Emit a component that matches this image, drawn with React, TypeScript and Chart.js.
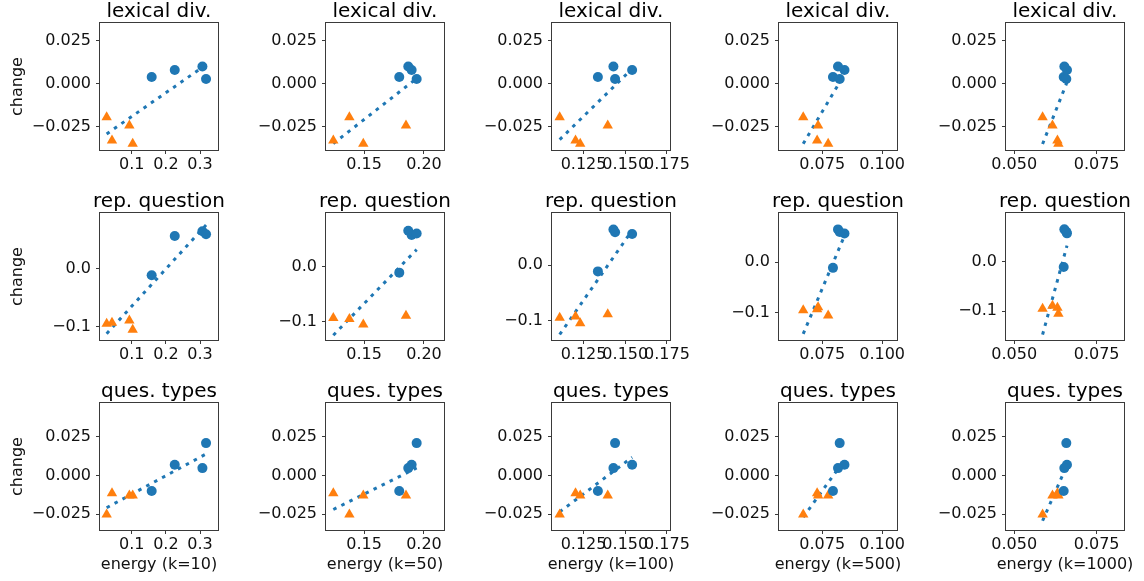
import React, { useEffect, useRef } from 'react';
import { Chart, registerables } from 'chart.js';

Chart.register(...registerables);
Chart.defaults.font.family = 'DejaVu Sans';

// ---------------- data ----------------
const rowTitles = ['lexical div.', 'rep. question', 'ques. types'];
const colXLabels = ['energy (k=10)', 'energy (k=50)', 'energy (k=100)', 'energy (k=500)', 'energy (k=1000)'];
const yAxisLabel = 'change';

// energy of the four "blue" systems and four "orange" systems, per k
const blueEnergyK10 = [0.1585, 0.226, 0.307, 0.3176];
const orangeEnergyK10 = [0.0268, 0.0424, 0.0932, 0.103];
const blueEnergyK50 = [0.1794, 0.1897, 0.1869, 0.1939];
const orangeEnergyK50 = [0.1378, 0.1244, 0.185, 0.1494];
const blueEnergyK100 = [0.1336, 0.1541, 0.1429, 0.1439];
const orangeEnergyK100 = [0.1107, 0.1202, 0.1395, 0.123];
const blueEnergyK500 = [0.0795, 0.0843, 0.0816, 0.0823];
const orangeEnergyK500 = [0.0671, 0.0729, 0.0733, 0.0775];
const blueEnergyK1000 = [0.065, 0.066, 0.0652, 0.0658];
const orangeEnergyK1000 = [0.0586, 0.0631, 0.0616, 0.0634];

// change per metric for the same systems
const blueChangeLexical = [0.0039, 0.008, 0.01, 0.0027];
const orangeChangeLexical = [-0.0195, -0.033, -0.0244, -0.035];
const blueChangeRepQuestion = [-0.011, 0.057, 0.065, 0.06];
const orangeChangeRepQuestion = [-0.095, -0.093, -0.089, -0.105];
const blueChangeQuesTypes = [-0.01, 0.007, 0.0048, 0.021];
const orangeChangeQuesTypes = [-0.0252, -0.0115, -0.013, -0.013];

const blueEnergy = [blueEnergyK10, blueEnergyK50, blueEnergyK100, blueEnergyK500, blueEnergyK1000];
const orangeEnergy = [orangeEnergyK10, orangeEnergyK50, orangeEnergyK100, orangeEnergyK500, orangeEnergyK1000];
const blueChange = [blueChangeLexical, blueChangeRepQuestion, blueChangeQuesTypes];
const orangeChange = [orangeChangeLexical, orangeChangeRepQuestion, orangeChangeQuesTypes];

// axis ranges and ticks
const xLimits = [[0.0073, 0.3526], [0.1183, 0.2167], [0.1061, 0.1768], [0.057, 0.1062], [0.0475, 0.0833]];
const xTickValues = [[0.1, 0.2, 0.3], [0.15, 0.2], [0.125, 0.15, 0.175], [0.075, 0.1], [0.05, 0.075]];
const xTickDecimals = [1, 2, 3, 3, 3];
const yLimitsLexical = [[-0.0386, 0.0353], [-0.0386, 0.0353], [-0.0386, 0.0353], [-0.0386, 0.0353], [-0.0386, 0.0353]];
const yLimitsRepQuestion = [[-0.1229, 0.0966], [-0.133, 0.097], [-0.1356, 0.095], [-0.1536, 0.0974], [-0.158, 0.098]];
const yLimitsQuesTypes = [[-0.0353, 0.047], [-0.0353, 0.047], [-0.0353, 0.047], [-0.0353, 0.047], [-0.0353, 0.047]];
const yLimits = [yLimitsLexical, yLimitsRepQuestion, yLimitsQuesTypes];
const yTickValues = [[-0.025, 0, 0.025], [-0.1, 0], [-0.025, 0, 0.025]];
const yTickDecimals = [3, 1, 3];

// ---------------- layout / style ----------------
const BLUE = '#1f77b4';
const ORANGE = '#ff7f0e';
const AXIS = '#3a3a3a';
const TEXT = '#111';
const FONT = 'DejaVu Sans';
const boxLefts = [100, 326, 552, 779, 1006];
const boxTops = [23, 213, 403];
const BOX_W = 118;
const BOX_H = 127;
const LEFT_W = 90;
const TOP_H = 23;
const BOTTOM_H = 45;
const RIGHT_W = 25;

function fmt(v: number, d: number) {
  const s = Math.abs(v).toFixed(d);
  return v < -1e-12 ? '\u2212' + s : s;
}

function fitLine(xs: number[], ys: number[]) {
  const n = xs.length;
  const mx = xs.reduce((a, b) => a + b, 0) / n;
  const my = ys.reduce((a, b) => a + b, 0) / n;
  let sxy = 0;
  let sxx = 0;
  for (let i = 0; i < n; i++) {
    sxy += (xs[i] - mx) * (ys[i] - my);
    sxx += (xs[i] - mx) * (xs[i] - mx);
  }
  const slope = sxy / sxx;
  const x0 = Math.min(...xs);
  const x1 = Math.max(...xs);
  return [
    { x: x0, y: my + slope * (x0 - mx) },
    { x: x1, y: my + slope * (x1 - mx) },
  ];
}

const framePlugin = {
  id: 'frame',
  afterDraw(chart: any, _args: any, opts: any) {
    const { ctx, chartArea } = chart;
    const cx = (chartArea.left + chartArea.right) / 2;
    ctx.save();
    ctx.strokeStyle = AXIS;
    ctx.lineWidth = 1;
    ctx.strokeRect(chartArea.left - 0.5, chartArea.top - 0.5, chartArea.right - chartArea.left + 1, chartArea.bottom - chartArea.top + 1);
    // panel title
    ctx.fillStyle = '#000';
    ctx.textAlign = 'center';
    ctx.textBaseline = 'alphabetic';
    ctx.font = `20px "${FONT}"`;
    ctx.fillText(opts.title, cx, chartArea.top - 6);
    // x axis label
    if (opts.xLabel) {
      ctx.fillStyle = TEXT;
      ctx.font = `16px "${FONT}"`;
      ctx.fillText(opts.xLabel, cx, chartArea.bottom + 39);
    }
    // y axis label
    if (opts.yLabel) {
      ctx.fillStyle = TEXT;
      ctx.font = `16px "${FONT}"`;
      ctx.translate(8, (chartArea.top + chartArea.bottom) / 2);
      ctx.rotate(-Math.PI / 2);
      ctx.textBaseline = 'middle';
      ctx.fillText(opts.yLabel, 0, 0);
    }
    ctx.restore();
  },
};

function Panel({ row, col }: { row: number; col: number }) {
  const ref = useRef<HTMLCanvasElement | null>(null);
  useEffect(() => {
    const bx = blueEnergy[col];
    const by = blueChange[row];
    const ox = orangeEnergy[col];
    const oy = orangeChange[row];
    const allX = [...bx, ...ox];
    const allY = [...by, ...oy];
    const chart = new Chart(ref.current as HTMLCanvasElement, {
      type: 'scatter',
      data: {
        datasets: [
          {
            data: bx.map((x, i) => ({ x, y: by[i] })),
            pointStyle: 'circle',
            pointRadius: 5,
            backgroundColor: BLUE,
            borderWidth: 0,
          },
          {
            data: ox.map((x, i) => ({ x, y: oy[i] })),
            pointStyle: 'triangle',
            pointRadius: 6,
            backgroundColor: ORANGE,
            borderWidth: 0,
          },
          {
            data: fitLine(allX, allY),
            showLine: true,
            borderColor: BLUE,
            borderWidth: 3,
            borderDash: [3.5, 5.5],
            pointRadius: 0,
            fill: false,
          },
        ],
      } as any,
      options: {
        animation: false,
        responsive: false,
        devicePixelRatio: 1,
        layout: { padding: { left: 0, top: TOP_H, bottom: 0, right: RIGHT_W } },
        plugins: {
          legend: { display: false },
          tooltip: { enabled: false },
          title: { display: false },
          frame: {
            title: rowTitles[row],
            xLabel: row === 2 ? colXLabels[col] : '',
            yLabel: col === 0 ? yAxisLabel : '',
          },
        },
        scales: {
          x: {
            type: 'linear',
            min: xLimits[col][0],
            max: xLimits[col][1],
            afterBuildTicks: (scale: any) => {
              scale.ticks = xTickValues[col].map((v) => ({ value: v }));
            },
            afterFit: (scale: any) => {
              scale.height = BOTTOM_H;
            },
            ticks: {
              autoSkip: false,
              maxRotation: 0,
              padding: 1,
              color: TEXT,
              font: { size: 16 },
              callback: (v: any) => fmt(Number(v), xTickDecimals[col]),
            },
            grid: { drawOnChartArea: false, drawTicks: true, tickLength: 4, color: AXIS },
            border: { display: false },
            title: { display: false },
          },
          y: {
            type: 'linear',
            min: yLimits[row][col][0],
            max: yLimits[row][col][1],
            afterBuildTicks: (scale: any) => {
              scale.ticks = yTickValues[row].map((v) => ({ value: v }));
            },
            afterFit: (scale: any) => {
              scale.width = LEFT_W;
            },
            ticks: {
              autoSkip: false,
              padding: 5,
              color: TEXT,
              font: { size: 16 },
              callback: (v: any) => fmt(Number(v), yTickDecimals[row]),
            },
            grid: { drawOnChartArea: false, drawTicks: true, tickLength: 4, color: AXIS },
            border: { display: false },
            title: { display: false },
          },
        },
      } as any,
      plugins: [framePlugin],
    });
    return () => chart.destroy();
  }, [row, col]);

  const w = LEFT_W + BOX_W + RIGHT_W;
  const h = TOP_H + BOX_H + BOTTOM_H;
  return (
    <canvas
      ref={ref}
      width={w}
      height={h}
      style={{
        position: 'absolute',
        left: boxLefts[col] - LEFT_W,
        top: boxTops[row] - TOP_H,
        width: w,
        height: h,
      }}
    />
  );
}

export default function App() {
  const panels: JSX.Element[] = [];
  for (let r = 0; r < 3; r++) {
    for (let c = 0; c < 5; c++) {
      panels.push(<Panel key={`${r}-${c}`} row={r} col={c} />);
    }
  }
  return (
    <div style={{ position: 'absolute', left: 0, top: 0, width: 1144, height: 581, background: '#fff', overflow: 'hidden' }}>
      {panels}
    </div>
  );
}
